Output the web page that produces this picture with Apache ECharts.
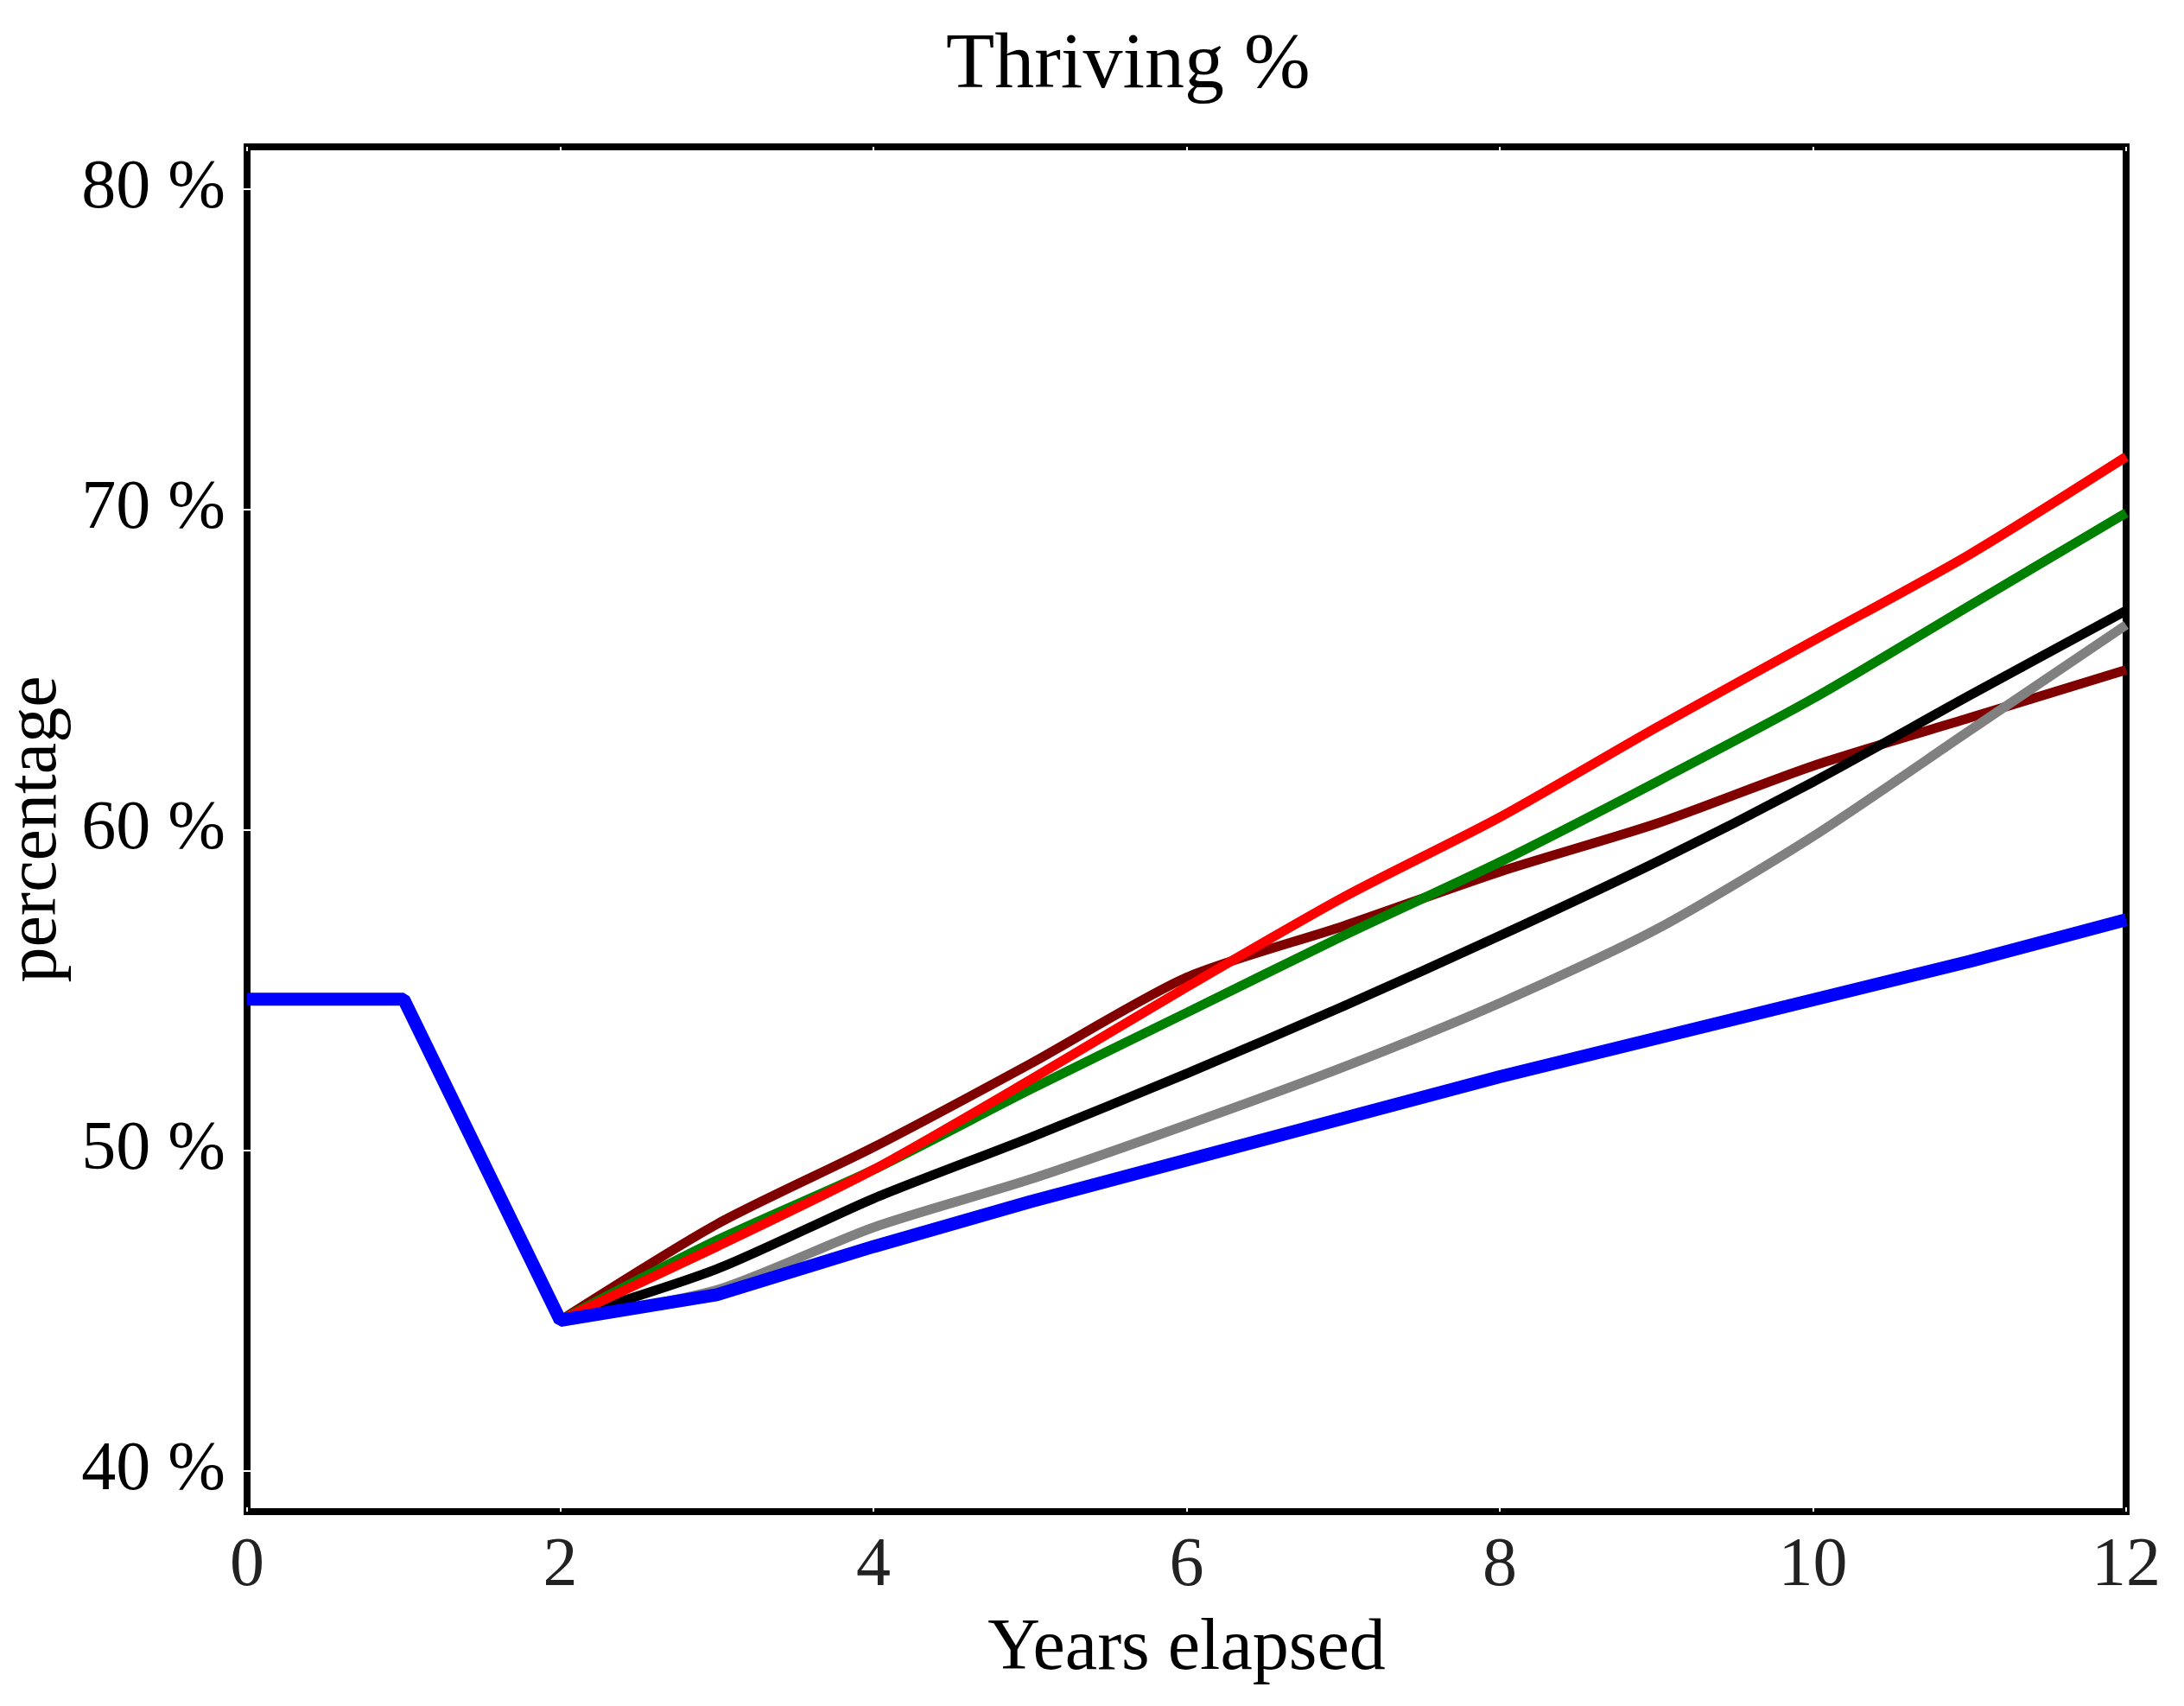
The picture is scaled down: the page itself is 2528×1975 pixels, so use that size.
<!DOCTYPE html>
<html lang="en">
<head>
    <meta charset="UTF-8">
    <title>Thriving %</title>
    <script src="https://cdn.jsdelivr.net/npm/echarts@6/dist/echarts.min.js"></script>
    <style>
        html, body { margin: 0; padding: 0; width: 100%; height: 100%; background: #fff; }
        #chart { width: 2528px; height: 1975px; }
    </style>
</head>
<body>
<div id="chart"></div>
<script>
    // years elapsed for the scenario runs (all start at year 2)
    var years = [2, 3, 4, 5, 6, 7, 8, 9, 10, 11, 12];
    var yTicks = [40, 50, 60, 70, 80];
    var xTicks = [0, 2, 4, 6, 8, 10, 12];

    // baseline (blue) has its own history before year 2
    var blueYears = [0, 1, 2, 3, 4, 5, 6, 7, 8, 9, 10, 11, 12];
    var blue  = [54.72, 54.72, 44.7, 45.5, 47.0, 48.4, 49.7, 51.0, 52.3, 53.5, 54.7, 55.9, 57.2];

    var red   = [44.7, 47.0, 49.4, 52.2, 55.1, 57.9, 60.4, 63.2, 65.9, 68.6, 71.65];
    var green = [44.7, 47.2, 49.4, 51.9, 54.3, 56.7, 59.0, 61.5, 64.1, 67.0, 69.9];
    var black = [44.7, 46.3, 48.5, 50.4, 52.4, 54.5, 56.7, 59.0, 61.5, 64.2, 66.85];
    var gray  = [44.7, 45.65, 47.6, 49.1, 50.8, 52.6, 54.6, 56.9, 59.8, 63.1, 66.4];
    var brown = [44.7, 47.7, 50.1, 52.7, 55.4, 57.0, 58.7, 60.2, 62.0, 63.5, 65.0];

    function pairs(xs, ys) {
        return xs.map(function (x, i) { return [x, ys[i]]; });
    }

    function line(name, color, xs, ys, width, smooth) {
        return {
            name: name,
            type: 'line',
            data: pairs(xs, ys),
            showSymbol: false,
            symbol: 'none',
            smooth: smooth,
            animation: false,
            lineStyle: { color: color, width: width },
            itemStyle: { color: color }
        };
    }

    var serif = '"Liberation Serif", "DejaVu Serif", serif';
    // small white notches on the inner side of the frame
    var notch = { show: true, inside: true, length: 5, lineStyle: { color: '#fff', width: 2 } };

    var chart = echarts.init(document.getElementById('chart'));
    chart.setOption({
        backgroundColor: '#fff',
        title: {
            text: 'Thriving %',
            left: 1090,
            top: 26,
            textStyle: { fontFamily: serif, fontSize: 92, fontWeight: 'normal', color: '#000' }
        },
        grid: {
            left: 286, right: 67, top: 170, bottom: 225,
            show: true, borderColor: '#000', borderWidth: 8,
            containLabel: false,
            outerBoundsMode: 'none'
        },
        xAxis: [{
            type: 'value',
            min: 0, max: 12, interval: 2,
            name: 'Years elapsed',
            nameLocation: 'middle',
            nameGap: 118,
            nameTextStyle: { fontFamily: serif, fontSize: 84, color: '#000' },
            axisLine: { show: false },
            axisTick: notch,
            splitLine: { show: false },
            axisLabel: {
                customValues: xTicks,
                fontFamily: serif, fontSize: 80, color: '#222', margin: 24
            }
        }, {
            type: 'value',
            position: 'top',
            min: 0, max: 12, interval: 2,
            axisLine: { show: false },
            axisTick: notch,
            axisLabel: { show: false },
            splitLine: { show: false }
        }],
        yAxis: [{
            type: 'value',
            min: 38.73, max: 81.32,
            name: 'percentage',
            nameLocation: 'middle',
            nameGap: 197,
            nameTextStyle: { fontFamily: serif, fontSize: 82, color: '#000' },
            axisLine: { show: false },
            axisTick: Object.assign({ customValues: yTicks }, notch),
            splitLine: { show: false },
            axisLabel: {
                customValues: yTicks,
                formatter: '{value} %',
                fontFamily: serif, fontSize: 80, color: '#000', margin: 25
            }
        }, {
            type: 'value',
            position: 'right',
            min: 38.73, max: 81.32,
            axisLine: { show: false },
            axisTick: Object.assign({ customValues: yTicks }, notch),
            axisLabel: { show: false },
            splitLine: { show: false }
        }],
        series: [
            line('brown', '#800000', years, brown, 11, 0.25),
            line('black', '#000000', years, black, 11, 0.25),
            line('gray', '#808080', years, gray, 11, 0.25),
            line('green', '#008000', years, green, 11, 0.25),
            line('red', '#ff0000', years, red, 11, 0.25),
            line('blue', '#0000ff', blueYears, blue, 15, false)
        ]
    });
</script>
</body>
</html>
